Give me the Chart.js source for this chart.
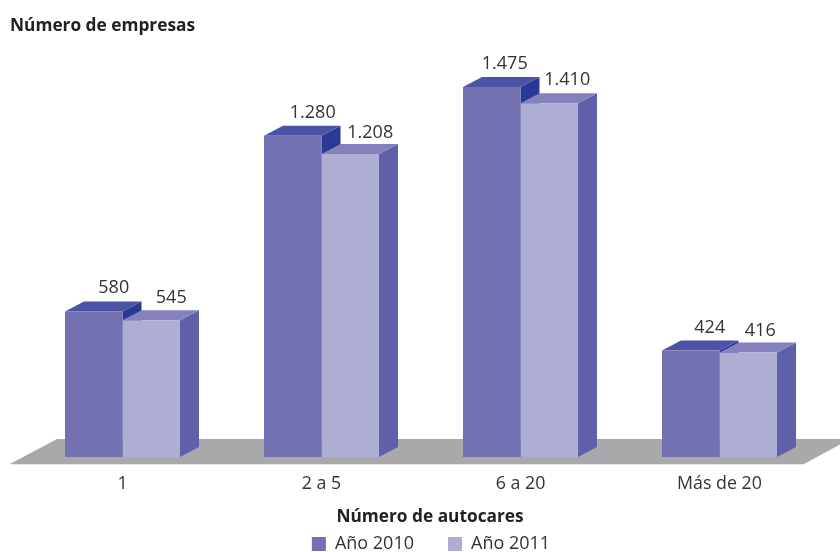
<!DOCTYPE html>
<html>
<head>
<meta charset="utf-8">
<style>
  body { margin: 0; background: #fff; }
  canvas { display: block; }
</style>
<script src="https://cdn.jsdelivr.net/npm/chart.js@4/dist/chart.umd.min.js"></script>
</head>
<body>
<canvas id="chart" width="840" height="552"></canvas>
<script>
const categories = ['1', '2 a 5', '6 a 20', 'Más de 20'];
const years = ['Año 2010', 'Año 2011'];
const values2010 = [580, 1280, 1475, 424];
const values2011 = [545, 1208, 1410, 416];

const fontFamily = '"Open Sans", sans-serif';
const textColor = '#333333';
const frontColors = ['#7371b1', '#aeadd4'];
const topColors = ['#4c53a2', '#8481bd'];
const sideColors = ['#2b3996', '#5f60a9'];
const depthX = 19;
const depthY = 10;

// label nudges, the source places them by hand
const labelDx = [[20, 20, 13, 19], [20, 20, 18, 12]];
const labelDy = [[24, 23, 23, 23], [22, 21, 23, 22]];

function formatValue(v) {
  return String(v).replace(/\B(?=(\d{3})+$)/g, '.');
}

function poly(ctx, color, pts) {
  ctx.fillStyle = color;
  ctx.beginPath();
  pts.forEach((p, i) => i ? ctx.lineTo(p[0], p[1]) : ctx.moveTo(p[0], p[1]));
  ctx.closePath();
  ctx.fill();
}

const boxes3d = {
  id: 'boxes3d',
  beforeDatasetsDraw(chart) {
    const ctx = chart.ctx;
    const base = chart.scales.y.getPixelForValue(0);
    const area = chart.chartArea;
    // floor
    poly(ctx, '#d2d2d4', [[area.left - 13, base + 7.5], [area.right - 15, base + 7.5], [area.right - 13, base + 6], [area.left - 11, base + 6]]);
    poly(ctx, '#a9a9ac', [[area.left - 13, base + 7], [area.right - 15, base + 7], [area.right + 31, base - 18], [area.left + 34, base - 18]]);
    chart.data.datasets.forEach((ds, d) => {
      chart.getDatasetMeta(d).data.forEach(bar => {
        const p = bar.getProps(['x', 'y', 'width']);
        const l = p.x - p.width / 2;
        const r = p.x + p.width / 2;
        poly(ctx, sideColors[d], [[r, p.y], [r + depthX, p.y - depthY], [r + depthX, base - depthY], [r, base]]);
        poly(ctx, topColors[d], [[l, p.y], [r, p.y], [r + depthX, p.y - depthY], [l + depthX, p.y - depthY]]);
      });
    });
  },
  afterDatasetsDraw(chart) {
    const ctx = chart.ctx;
    ctx.fillStyle = textColor;
    ctx.textAlign = 'center';
    ctx.textBaseline = 'middle';
    ctx.font = '18px ' + fontFamily;
    chart.data.datasets.forEach((ds, d) => {
      chart.getDatasetMeta(d).data.forEach((bar, i) => {
        const p = bar.getProps(['x', 'y']);
        ctx.fillText(formatValue(ds.data[i]), p.x + labelDx[d][i], p.y - labelDy[d][i]);
      });
    });
    ctx.fillStyle = '#222222';
    ctx.font = 'bold 17.3px ' + fontFamily;
    ctx.fillText('Número de autocares', 430, 517);
    ctx.textAlign = 'left';
    ctx.fillText('Número de empresas', 10, 26);
  }
};

new Chart(document.getElementById('chart'), {
  type: 'bar',
  data: {
    labels: categories,
    datasets: [
      { label: years[0], data: values2010, backgroundColor: frontColors[0] },
      { label: years[1], data: values2011, backgroundColor: frontColors[1] }
    ]
  },
  plugins: [boxes3d],
  options: {
    responsive: false,
    animation: false,
    layout: { padding: { left: 22, right: 0, top: 43, bottom: -11 } },
    datasets: { bar: { barPercentage: 1, categoryPercentage: 0.578 } },
    scales: {
      x: {
        grid: { display: false },
        border: { display: false },
        ticks: { color: textColor, padding: 8, maxRotation: 0, font: { family: fontFamily, size: 17.8 } },
        afterFit(s) { s.height = 72; }
      },
      y: {
        min: 0,
        max: 1650,
        grid: { display: false },
        border: { display: false },
        ticks: { display: false },
        afterFit(s) { s.width = 1; }
      },
      yRight: {
        position: 'right',
        display: true,
        min: 0,
        max: 1,
        grid: { display: false },
        border: { display: false },
        ticks: { display: false },
        afterFit(s) { s.width = 21; }
      }
    },
    plugins: {
      tooltip: { enabled: false },
      legend: {
        position: 'bottom',
        labels: {
          color: textColor,
          boxWidth: 14,
          boxHeight: 14,
          padding: 6,
          font: { family: fontFamily, size: 18 },
          generateLabels(chart) {
            // wider gap between the two entries than the legend padding allows
            return Chart.defaults.plugins.legend.labels.generateLabels(chart).map((item, i) => {
              if (i === 0) item.text += '\u00a0\u00a0\u00a0\u00a0\u00a0\u00a0';
              return item;
            });
          }
        }
      }
    }
  }
});
</script>
</body>
</html>
